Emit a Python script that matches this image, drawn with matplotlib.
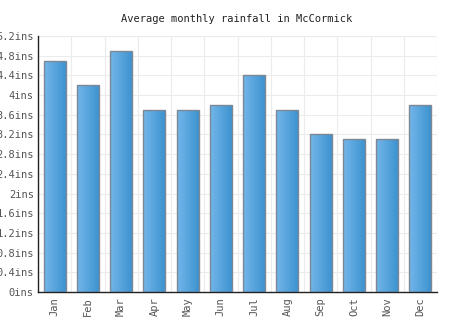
import matplotlib
matplotlib.use("Agg")
import matplotlib.pyplot as plt
import numpy as np

months = ["Jan", "Feb", "Mar", "Apr", "May", "Jun", "Jul", "Aug", "Sep", "Oct", "Nov", "Dec"]
rainfall = [4.7, 4.2, 4.9, 3.7, 3.7, 3.8, 4.4, 3.7, 3.2, 3.1, 3.1, 3.8]
yticks = [0, 0.4, 0.8, 1.2, 1.6, 2.0, 2.4, 2.8, 3.2, 3.6, 4.0, 4.4, 4.8, 5.2]
ytick_labels = ["0ins", "0.4ins", "0.8ins", "1.2ins", "1.6ins", "2ins", "2.4ins", "2.8ins",
                "3.2ins", "3.6ins", "4ins", "4.4ins", "4.8ins", "5.2ins"]
title = "Average monthly rainfall in McCormick"

plt.rcParams['font.family'] = ['DejaVu Sans Mono']
fig = plt.figure(figsize=(4.74, 3.31), dpi=100)
ax = fig.add_axes([38/474, 1 - 292/331, 399/474, 256/331])

x = np.arange(len(months))
bars = ax.bar(x, rainfall, width=0.66, color='none', edgecolor='#7d8894', linewidth=1.0, zorder=3)

grad = np.linspace(0, 1, 256).reshape(1, -1)
from matplotlib.colors import LinearSegmentedColormap
cmap = LinearSegmentedColormap.from_list("g", ["#74b6ea", "#3d93d0"])
for b in bars:
    x0, w, h = b.get_x(), b.get_width(), b.get_height()
    im = ax.imshow(grad, cmap=cmap, aspect='auto', extent=[x0, x0 + w, 0, h], zorder=2)
    im.set_clip_path(b)

ax.set_xlim(-0.5, len(months) - 0.5)
ax.set_ylim(0, 5.2)
ax.set_yticks(yticks)
ax.set_yticklabels(ytick_labels)
ax.set_xticks(x)
ax.set_xticklabels(months, rotation=90)
ax.set_xticks(np.arange(-0.5, len(months), 1), minor=True)

ax.grid(False)
ax.yaxis.grid(True, color='#ececec', linewidth=0.8, zorder=0)
ax.xaxis.grid(True, which='minor', color='#ececec', linewidth=0.8, zorder=0)
ax.set_axisbelow(True)

for s in ['top', 'right']:
    ax.spines[s].set_visible(False)
ax.spines['left'].set_color('#222222')
ax.spines['bottom'].set_color('#222222')
ax.spines['left'].set_linewidth(1.0)
ax.spines['bottom'].set_linewidth(1.0)

ax.tick_params(axis='both', which='both', length=0, labelsize=7.5, colors='#555555')
ax.tick_params(axis='y', pad=3)
ax.tick_params(axis='x', pad=4)

fig.text(0.5, 1 - 19/331, title, ha='center', va='center', fontsize=7.5, color='#222222')

fig.savefig("out.png", dpi=100)
